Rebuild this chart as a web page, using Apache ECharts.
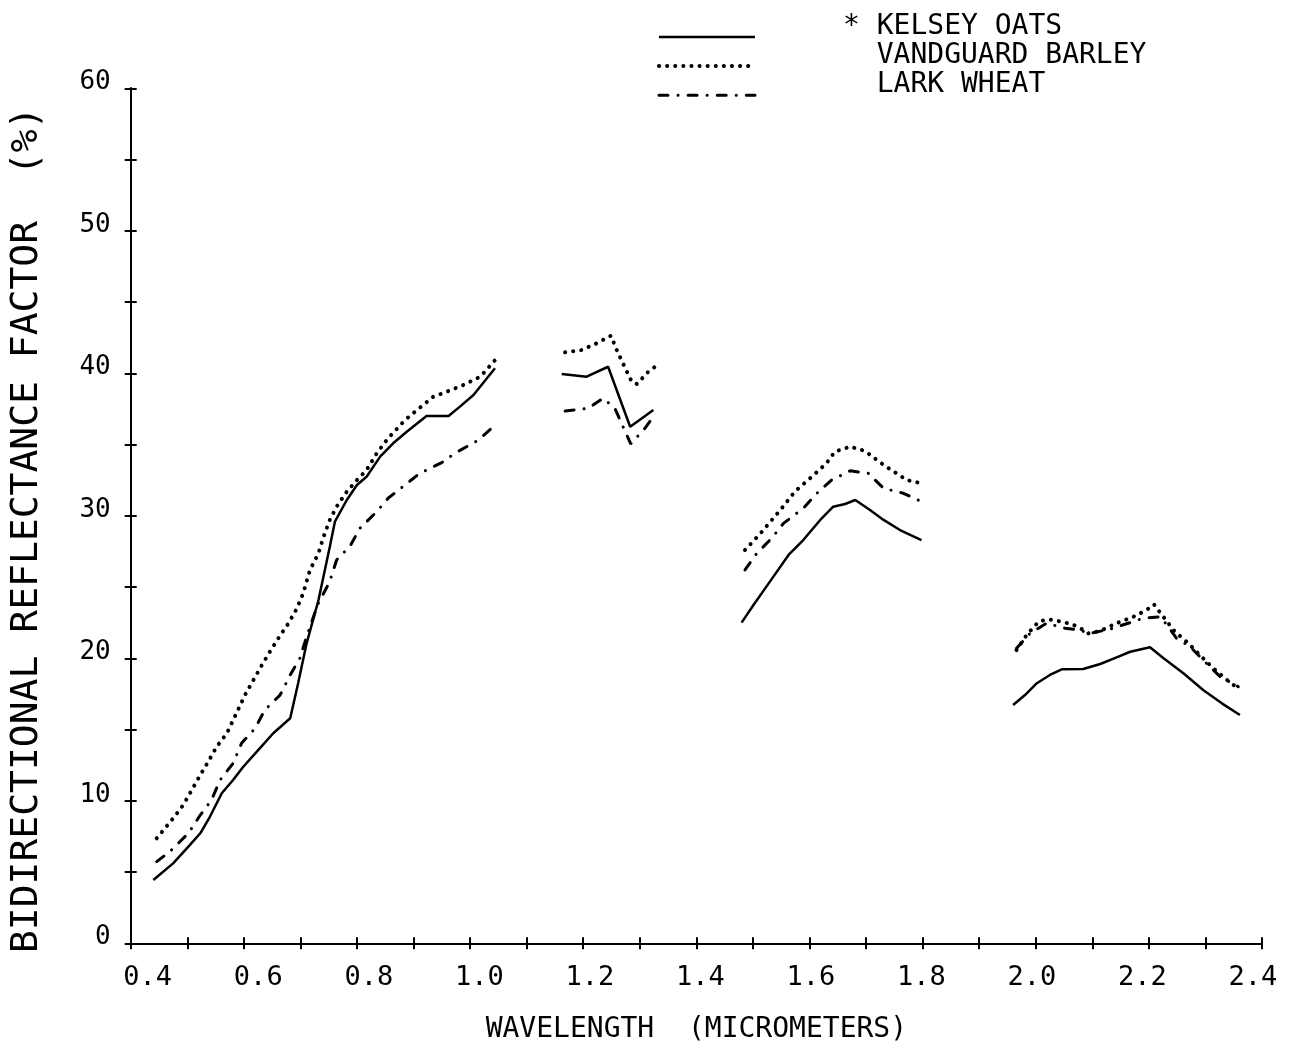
<!DOCTYPE html>
<html>
<head>
<meta charset="utf-8">
<script src="https://cdn.jsdelivr.net/npm/echarts@6/dist/echarts.min.js"></script>
<style>
html,body{margin:0;padding:0;background:#fff;}
#chart{width:1292px;height:1042px;}
</style>
</head>
<body>
<div id="chart"></div>
<script>
// ---- data: [wavelength (micrometers), bidirectional reflectance factor (%)] ----
const oats1 = [[0.440,4.44],[0.475,5.61],[0.502,6.78],[0.523,7.72],[0.540,8.88],[0.561,10.53],[0.581,11.46],[0.599,12.39],[0.623,13.45],[0.652,14.74],[0.682,15.79],[0.696,18.25],[0.711,21.05],[0.732,24.09],[0.752,27.83],[0.761,29.59],[0.782,31.11],[0.800,32.16],[0.817,32.74],[0.841,34.15],[0.864,35.09],[0.888,35.90],[0.923,37.00],[0.962,37.00],[0.982,37.66],[1.006,38.48],[1.044,40.35]];
const oats2 = [[1.162,39.95],[1.206,39.76],[1.244,40.46],[1.283,36.25],[1.324,37.42]];
const oats3 = [[1.480,22.50],[1.501,23.74],[1.530,25.38],[1.563,27.25],[1.589,28.30],[1.619,29.71],[1.642,30.64],[1.663,30.83],[1.681,31.11],[1.707,30.41],[1.731,29.71],[1.760,29.00],[1.798,28.30]];
const oats4 = [[1.960,16.72],[1.981,17.42],[2.002,18.25],[2.025,18.83],[2.046,19.23],[2.084,19.25],[2.114,19.60],[2.143,20.07],[2.167,20.46],[2.202,20.77],[2.226,20.00],[2.261,18.95],[2.296,17.78],[2.329,16.84],[2.361,16.02]];

const barley1 = [[0.446,7.37],[0.458,7.95],[0.475,8.77],[0.493,9.71],[0.508,10.76],[0.523,11.81],[0.537,12.74],[0.552,13.80],[0.570,14.74],[0.584,15.90],[0.602,17.42],[0.617,18.48],[0.632,19.53],[0.646,20.46],[0.661,21.40],[0.679,22.46],[0.693,23.44],[0.705,24.56],[0.717,26.20],[0.732,27.37],[0.741,28.53],[0.752,29.71],[0.764,30.64],[0.782,31.69],[0.800,32.51],[0.817,33.21],[0.835,34.39],[0.855,35.44],[0.885,36.72],[0.906,37.42],[0.935,38.36],[0.959,38.71],[0.988,39.18],[1.018,39.76],[1.047,41.05]];
const barley2 = [[1.168,41.47],[1.197,41.63],[1.224,42.11],[1.249,42.64],[1.261,41.47],[1.274,40.39],[1.286,39.39],[1.295,39.25],[1.315,40.11],[1.327,40.46]];
const barley3 = [[1.486,27.60],[1.516,28.88],[1.551,30.53],[1.574,31.69],[1.604,32.74],[1.630,33.68],[1.645,34.50],[1.672,34.85],[1.698,34.55],[1.731,33.57],[1.772,32.51],[1.798,32.28]];
const barley4 = [[1.966,20.58],[1.984,21.64],[2.005,22.57],[2.022,22.74],[2.046,22.57],[2.064,22.39],[2.079,22.11],[2.093,21.75],[2.114,21.92],[2.143,22.46],[2.173,22.92],[2.196,23.39],[2.209,23.79],[2.220,23.20],[2.246,21.87],[2.270,21.05],[2.290,20.23],[2.314,19.30],[2.338,18.48],[2.358,17.89]];

const wheat1 = [[0.446,5.73],[0.469,6.43],[0.502,7.72],[0.523,9.00],[0.543,10.06],[0.558,11.46],[0.581,12.63],[0.596,14.04],[0.620,15.09],[0.637,16.37],[0.664,17.42],[0.682,18.83],[0.699,20.00],[0.711,21.52],[0.731,23.81],[0.752,25.38],[0.764,26.90],[0.788,27.88],[0.805,29.12],[0.835,30.29],[0.855,31.23],[0.911,32.98],[0.950,33.73],[0.973,34.39],[1.015,35.32],[1.038,36.14]];
const wheat2 = [[1.168,37.35],[1.209,37.54],[1.235,38.25],[1.256,37.54],[1.284,35.04],[1.309,36.14],[1.324,36.95]];
const wheat3 = [[1.486,26.20],[1.507,27.37],[1.533,28.42],[1.554,29.47],[1.589,30.53],[1.613,31.58],[1.639,32.51],[1.672,33.16],[1.704,32.98],[1.731,31.93],[1.766,31.58],[1.798,30.99]];
const wheat4 = [[1.966,20.70],[1.990,21.75],[2.019,22.46],[2.052,22.11],[2.075,21.99],[2.096,21.75],[2.131,22.04],[2.190,22.81],[2.220,22.92],[2.232,22.34],[2.249,21.40],[2.273,20.81],[2.296,19.88],[2.326,18.71],[2.358,18.01]];

const seriesNames = ['KELSEY OATS', 'VANDGUARD BARLEY', 'LARK WHEAT'];
const xLabelValues = [0.4, 0.6, 0.8, 1.0, 1.2, 1.4, 1.6, 1.8, 2.0, 2.2, 2.4];

// join spectral segments, breaking the line across water absorption gaps
function joinSegments(segs) {
  const out = [];
  segs.forEach((s, i) => {
    if (i > 0) out.push(['-', '-']);
    s.forEach(p => out.push(p));
  });
  return out;
}

const FONT = 'DejaVu Sans Mono';
const BLACK = '#000';

const styleSolid = {color: BLACK, width: 2.5, type: 'solid'};
const styleDotted = {color: BLACK, width: 4, type: [0.1, 8], cap: 'round'};
const styleDashDot = {color: BLACK, width: 3, type: [9, 10, 0.1, 10], cap: 'round'};
const lineStyles = [styleSolid, styleDotted, styleDashDot];

const chart = echarts.init(document.getElementById('chart'), null, {renderer: 'canvas'});

const tickStyle = {color: BLACK, width: 2};
const axisLineStyle = {show: true, onZero: false, lineStyle: {color: BLACK, width: 2}};
const emptyLabel = {show: true, formatter: () => ''};

const tickAxisBase = {
  type: 'value', min: 0.4, max: 2.4, interval: 0.1, position: 'bottom',
  splitLine: {show: false}, axisLine: axisLineStyle, axisLabel: emptyLabel
};
const yTickAxisBase = {
  type: 'value', min: 0, max: 60, interval: 10, position: 'left',
  splitLine: {show: false}, axisLine: axisLineStyle
};

chart.setOption({
  animation: false,
  backgroundColor: '#fff',
  grid: {left: 130.7, right: 30, top: 88.3, bottom: 98.7, containLabel: false, outerBoundsMode: 'none'},
  legend: [
    {
      data: seriesNames.map((n, i) => ({name: n, itemStyle: {opacity: 0}, lineStyle: lineStyles[i]})),
      orient: 'vertical', left: 652, top: 17.5,
      itemWidth: 96, itemHeight: 29, itemGap: 3, selectedMode: false,
      formatter: () => '', textStyle: {fontSize: 1}
    },
    {
      data: seriesNames, orient: 'vertical', left: 833, top: 7,
      itemWidth: 0, itemHeight: 14, itemGap: 0, icon: 'none', selectedMode: false,
      formatter: name => name === 'KELSEY OATS' ? '* ' + name : '  ' + name,
      textStyle: {fontFamily: FONT, fontSize: 28, lineHeight: 29, color: BLACK}
    }
  ],
  xAxis: [
    Object.assign({}, tickAxisBase, {
      axisTick: {show: true, inside: false, length: 6, lineStyle: tickStyle}
    }),
    Object.assign({}, tickAxisBase, {
      axisTick: {show: true, inside: true, length: 6, lineStyle: tickStyle}
    }),
    {
      type: 'value', min: 0.3692, max: 2.4163, position: 'bottom',
      axisLine: {show: false, onZero: false}, axisTick: {show: false}, splitLine: {show: false},
      axisLabel: {
        show: true, customValues: xLabelValues, margin: 21,
        formatter: v => v.toFixed(1),
        fontFamily: FONT, fontSize: 27, color: BLACK
      },
      name: 'WAVELENGTH  (MICROMETERS)', nameLocation: 'middle', nameGap: 72,
      nameTextStyle: {fontFamily: FONT, fontSize: 28, color: BLACK}
    }
  ],
  yAxis: [
    Object.assign({}, yTickAxisBase, {
      axisTick: {show: true, inside: false, length: 6, lineStyle: tickStyle},
      minorTick: {show: true, splitNumber: 2, length: 6, lineStyle: tickStyle},
      axisLabel: {margin: 20, fontFamily: FONT, fontSize: 26, color: BLACK, verticalAlign: 'bottom', lineHeight: 12},
      name: 'BIDIRECTIONAL REFLECTANCE FACTOR  (%)', nameLocation: 'middle', nameGap: 85, nameRotate: 90,
      nameTextStyle: {fontFamily: FONT, fontSize: 38, color: BLACK, padding: [0, 28, 0, 0]}
    }),
    Object.assign({}, yTickAxisBase, {
      axisTick: {show: true, inside: true, length: 6, lineStyle: tickStyle},
      minorTick: {show: true, splitNumber: 2, length: 6, lineStyle: tickStyle},
      axisLabel: emptyLabel
    })
  ],
  series: [
    {
      name: seriesNames[0], type: 'line', data: joinSegments([oats1, oats2, oats3, oats4]),
      xAxisIndex: 0, yAxisIndex: 0, symbol: 'none', connectNulls: false,
      lineStyle: styleSolid, itemStyle: {color: BLACK}
    },
    {
      name: seriesNames[1], type: 'line', data: joinSegments([barley1, barley2, barley3, barley4]),
      xAxisIndex: 0, yAxisIndex: 0, symbol: 'none', connectNulls: false,
      lineStyle: styleDotted, itemStyle: {color: BLACK}
    },
    {
      name: seriesNames[2], type: 'line', data: joinSegments([wheat1, wheat2, wheat3, wheat4]),
      xAxisIndex: 0, yAxisIndex: 0, symbol: 'none', connectNulls: false,
      lineStyle: styleDashDot, itemStyle: {color: BLACK}
    }
  ]
});
</script>
</body>
</html>
